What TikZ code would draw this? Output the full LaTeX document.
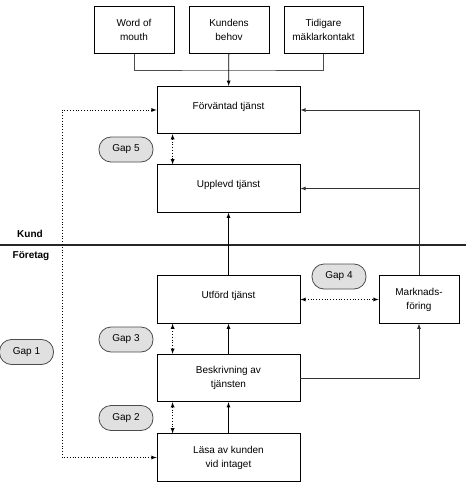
\documentclass[tikz,border=0pt]{standalone}
\usepackage{fontspec}
\setmainfont{Liberation Sans}
\usetikzlibrary{arrows}

\begin{document}
\begin{tikzpicture}[x=1pt,y=-1pt,>=latex,line width=0.8pt,
  font=\fontsize{10}{14}\selectfont,
  box/.style={draw,align=center,minimum width=143pt,minimum height=47.5pt,inner sep=0pt},
  small/.style={box,minimum width=80pt},
  single/.style={text depth=9pt},
  gap/.style={draw=black!70,fill=black!12,rounded corners=12pt,minimum width=54pt,minimum height=25pt,inner sep=0pt},
  gaparrow/.style={dotted,latex-latex}]
  \useasboundingbox (0,0) rectangle (466,484);
  % top boxes
  \node[small] (wm) at (134,30) {Word of\\mouth};
  \node[small] (kb) at (229,30) {Kundens\\behov};
  \node[small,minimum width=79pt] (td) at (323.5,30) {Tidigare\\mäklarkontakt};
  \coordinate (join) at (229,70);
  % main column
  \node[box,single] (fv) at (228.5,110) {Förväntad tjänst};
  \node[box,single] (up) at (228.5,188.5) {Upplevd tjänst};
  \node[box,single] (ut) at (228.5,299.5) {Utförd tjänst};
  \node[box] (be) at (228.5,378) {Beskrivning av\\tjänsten};
  \node[box] (la) at (228.5,457.5) {Läsa av kunden\\vid intaget};
  \node[small] (mf) at (419,299.5) {Marknads-\\föring};
  % gaps
  \node[gap] (g5) at (126,149.5) {Gap 5};
  \node[gap] (g4) at (339,276.5) {Gap 4};
  \node[gap] (g3) at (126,339.5) {Gap 3};
  \node[gap] (g1) at (26.5,352) {Gap 1};
  \node[gap] (g2) at (126,418) {Gap 2};
  % kund / foretag
  \draw[line width=1.4pt,black!85] (0,245) -- (466,245);
  \node[font=\fontsize{10}{12}\selectfont\bfseries] (kund) at (30,234) {Kund};
  \node[font=\fontsize{10}{12}\selectfont\bfseries] (foretag) at (31,256) {Företag};
  % connectors
  \draw[black!70] (wm.south) |- (join) -| (td.south);
  \draw[->] (kb) -- (fv);
  \path[->]
  (ut) edge (up)
  (be) edge (ut)
  (la) edge (be)
  ;
  \draw[->,black!80] (mf.north) |- (fv.east);
  \draw[->,black!80] (mf.north) |- (up.east);
  \draw[->,black!80] (be.east) -| (mf.south);
  \coordinate (corner) at (62,110);
  \draw[gaparrow] (fv.west) -- (corner) |- (la.west);
  \draw[gaparrow] ([xshift=16pt]fv.south west) -- ([xshift=16pt]up.north west);
  \draw[gaparrow] ([xshift=16pt]ut.south west) -- ([xshift=16pt]be.north west);
  \draw[gaparrow] ([xshift=16pt]be.south west) -- ([xshift=16pt]la.north west);
  \draw[gaparrow] (ut.east) -- (mf.west);
\end{tikzpicture}
\end{document}
